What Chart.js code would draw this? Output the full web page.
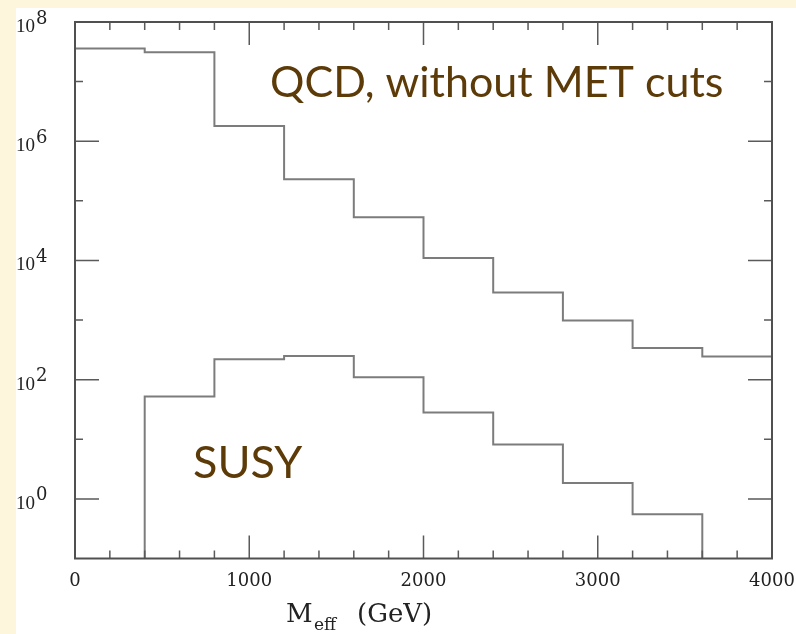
<!DOCTYPE html>
<html>
<head>
<meta charset="utf-8">
<script src="https://cdn.jsdelivr.net/npm/chart.js@4/dist/chart.umd.min.js"></script>
<style>
  html, body { margin: 0; padding: 0; background: #fdf6dc; }
  #wrap { width: 796px; height: 634px; }
</style>
</head>
<body>
<div id="wrap"><canvas id="meffChart" width="796" height="634"></canvas></div>
<script>
// histogram bin edges (GeV) and contents per bin
const binEdges = [0, 400, 800, 1200, 1600, 2000, 2400, 2800, 3200, 3600, 4000];
const qcdEvents = [3.6e7, 3.1e7, 1.8e6, 2.3e5, 5.3e4, 1.1e4, 2.9e3, 980, 340, 245];
const susyEvents = [0, 52, 220, 250, 110, 28, 8.2, 1.85, 0.55, 0];

// axis ticks
const xMajorTicks = [0, 1000, 2000, 3000, 4000];
const xMinorStep = 200;
const yMajorExp = [0, 2, 4, 6, 8];
const yMinorExp = [1, 3, 5, 7];

const yMin = 0.1, yMax = 1e8;
const FLOOR = 1e-3; // empty bins sit below the axis

const annotations = [
  { text: 'QCD, without MET cuts', x: 270, y: 97 },
  { text: 'SUSY', x: 193, y: 478 },
];

// one point per left bin edge, plus the right edge of the last bin
function toSteps(values) {
  const pts = values.map((v, i) => ({ x: binEdges[i], y: v > 0 ? v : FLOOR }));
  const last = values[values.length - 1];
  pts.push({ x: binEdges[binEdges.length - 1], y: last > 0 ? last : FLOOR });
  return pts;
}

const paperPlugin = {
  id: 'paper',
  beforeDraw(chart) {
    const ctx = chart.ctx;
    ctx.save();
    ctx.fillStyle = '#fdf6dc';
    ctx.fillRect(0, 0, chart.width, chart.height);
    ctx.fillStyle = '#ffffff';
    ctx.fillRect(16, 8, chart.width - 16, chart.height - 8);
    ctx.restore();
  },
  afterDatasetsDraw(chart) {
    const ctx = chart.ctx;
    const a = chart.chartArea;
    const xs = chart.scales.x, ys = chart.scales.y;
    ctx.save();

    // ticks, pointing inward on all four sides
    ctx.strokeStyle = '#5a5a5a';
    ctx.lineWidth = 1.5;
    ctx.beginPath();
    for (let v = 0; v <= 4000; v += xMinorStep) {
      const px = xs.getPixelForValue(v);
      const len = xMajorTicks.includes(v) ? 23 : 8;
      ctx.moveTo(px, a.bottom); ctx.lineTo(px, a.bottom - len);
      ctx.moveTo(px, a.top); ctx.lineTo(px, a.top + len);
    }
    yMajorExp.concat(yMinorExp).forEach(e => {
      const py = ys.getPixelForValue(10 ** e);
      const len = yMajorExp.includes(e) ? 24 : 8;
      ctx.moveTo(a.left, py); ctx.lineTo(a.left + len, py);
      ctx.moveTo(a.right, py); ctx.lineTo(a.right - len, py);
    });
    ctx.stroke();

    // frame
    ctx.strokeStyle = '#505050';
    ctx.lineWidth = 2;
    ctx.strokeRect(a.left, a.top, a.right - a.left, a.bottom - a.top);

    // y labels 10^n
    ctx.fillStyle = '#222222';
    ctx.textBaseline = 'alphabetic';
    yMajorExp.forEach(e => {
      const py = ys.getPixelForValue(10 ** e);
      ctx.textAlign = 'left';
      ctx.font = '19px "Liberation Serif"';
      ctx.fillText('10', 16, py + 10);
      ctx.font = '18px "DejaVu Serif"';
      ctx.fillText(String(e), 36, py + 1.5);
    });

    // x labels
    ctx.font = '18px "DejaVu Serif"';
    ctx.textAlign = 'center';
    xMajorTicks.forEach(v => {
      ctx.fillText(String(v), xs.getPixelForValue(v), 586);
    });

    // x title
    ctx.textAlign = 'left';
    ctx.font = '26px "DejaVu Serif"';
    ctx.fillText('M', 286, 622);
    ctx.font = '17px "DejaVu Serif"';
    ctx.fillText('eff', 314, 630);
    ctx.font = '26px "DejaVu Serif"';
    ctx.fillText('(GeV)', 357, 622);

    // annotations
    ctx.fillStyle = '#5c3b08';
    ctx.font = '43px Lato';
    ctx.fillText(annotations[0].text, annotations[0].x, annotations[0].y);
    ctx.font = '45px Lato';
    ctx.fillText(annotations[1].text, annotations[1].x, annotations[1].y);
    ctx.restore();
  }
};

new Chart(document.getElementById('meffChart').getContext('2d'), {
  type: 'line',
  data: {
    datasets: [
      { label: 'QCD', data: toSteps(qcdEvents) },
      { label: 'SUSY', data: toSteps(susyEvents) },
    ].map(ds => Object.assign(ds, {
      stepped: 'before',
      borderColor: '#7c7c7c',
      borderWidth: 2,
      pointRadius: 0,
      fill: false,
    })),
  },
  options: {
    responsive: false,
    animation: false,
    layout: { padding: { left: 75, top: 22, right: 24, bottom: 75.5 } },
    plugins: { legend: { display: false }, tooltip: { enabled: false } },
    scales: {
      x: { type: 'linear', min: 0, max: 4000, display: false },
      y: { type: 'logarithmic', min: yMin, max: yMax, display: false },
    },
  },
  plugins: [paperPlugin],
});
</script>
</body>
</html>
